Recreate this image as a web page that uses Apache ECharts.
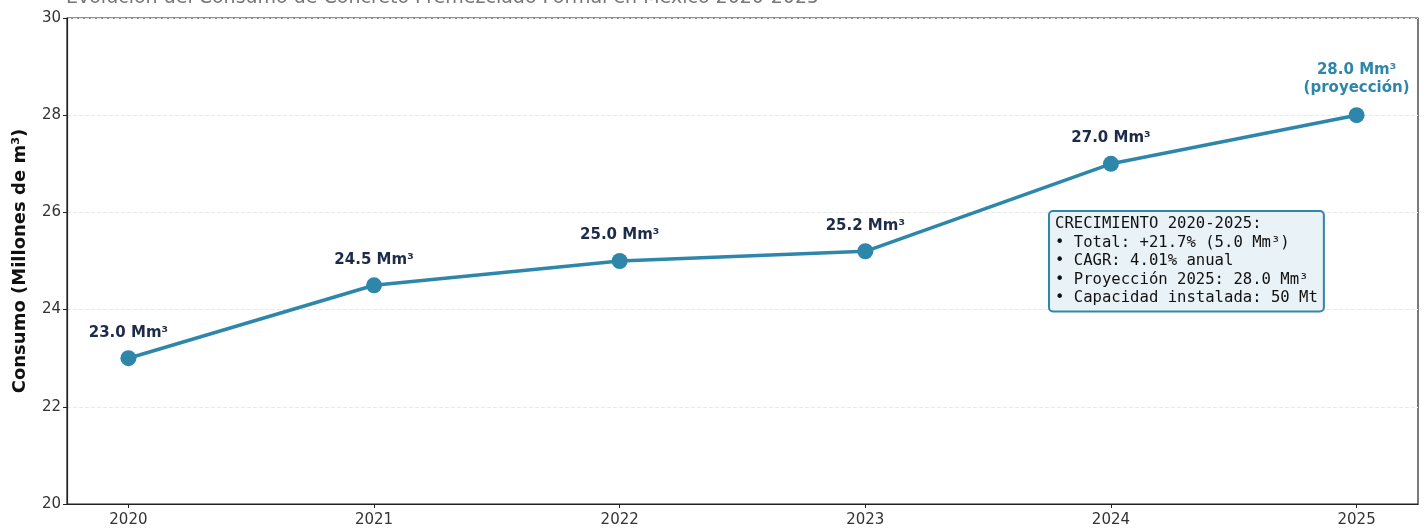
<!DOCTYPE html>
<html><head><meta charset="utf-8">
<script src="https://cdn.jsdelivr.net/npm/echarts@6/dist/echarts.min.js"></script>
<style>html,body{margin:0;padding:0;background:#fff}#c{width:1424px;height:531px}</style>
</head><body><div id="c"></div>
<script>
const years = [2020, 2021, 2022, 2023, 2024, 2025];
const consumo = [23.0, 24.5, 25.0, 25.2, 27.0, 28.0];
const pointLabels = ['23.0 Mm³', '24.5 Mm³', '25.0 Mm³', '25.2 Mm³', '27.0 Mm³', '28.0 Mm³\n(proyección)'];
const yTicks = [20, 22, 24, 26, 28, 30];
const titleText = 'Evolución del Consumo de Concreto Premezclado Formal en México 2020-2025';
const boxLines = ['CRECIMIENTO 2020-2025:', '• Total: +21.7% (5.0 Mm³)', '• CAGR: 4.01% anual', '• Proyección 2025: 28.0 Mm³', '• Capacidad instalada: 50 Mt'];

const LINE = '#2E86AB';
const chart = echarts.init(document.getElementById('c'));
chart.setOption({
  animation: false,
  textStyle: { fontFamily: 'DejaVu Sans' },
  grid: { left: 67, right: 6, top: 18, bottom: 27, show: true, borderColor: '#222', borderWidth: 1.2, backgroundColor: 'transparent' },
  xAxis: {
    type: 'value', min: 2019.75, max: 2025.25,
    axisLine: { show: true, onZero: false, lineStyle: { color: '#222', width: 1.2 } },
    axisTick: { show: true, length: 4, lineStyle: { color: '#222' }, customValues: years },
    axisLabel: { color: '#333', fontSize: 15, margin: 9, customValues: years, formatter: v => String(v) },
    splitLine: { show: false }
  },
  yAxis: {
    type: 'value', min: yTicks[0], max: yTicks[yTicks.length - 1], interval: 2,
    name: 'Consumo (Millones de m³)', nameLocation: 'middle', nameGap: 38,
    nameTextStyle: { fontSize: 18, fontWeight: 'bold', color: '#111' },
    axisLine: { show: true, lineStyle: { color: '#222', width: 1.2 } },
    axisTick: { show: true, length: 4, lineStyle: { color: '#222' } },
    axisLabel: { color: '#333', fontSize: 15, margin: 6 },
    splitLine: { show: true, lineStyle: { color: '#e8e8e8', type: 'dashed', width: 1 } }
  },
  series: [{
    type: 'line',
    data: years.map((y, i) => i === years.length - 1
      ? { value: [y, consumo[i]], label: { color: LINE, lineHeight: 18 } }
      : [y, consumo[i]]),
    symbol: 'circle', symbolSize: 16,
    lineStyle: { color: LINE, width: 3.5 },
    itemStyle: { color: LINE },
    label: {
      show: true, position: 'top', distance: 10,
      fontSize: 15, fontWeight: 'bold', color: '#1d2b4a',
      formatter: p => pointLabels[p.dataIndex]
    },
    emphasis: { disabled: true }
  }],
  graphic: [{
    type: 'text', x: 66, y: -11, z: 100,
    style: { text: titleText, font: '19px "DejaVu Sans"', fill: '#777', verticalAlign: 'top', align: 'left' }
  }, {
    type: 'text', left: 1048, top: 210, z: 100,
    style: {
      text: boxLines.join('\n'),
      font: '15.6px "DejaVu Sans Mono"', fill: '#111', lineHeight: 18.5,
      backgroundColor: '#e9f2f6', borderColor: LINE, borderWidth: 2, borderRadius: 3,
      padding: [3, 5, 3, 5]
    }
  }]
});
</script></body></html>
